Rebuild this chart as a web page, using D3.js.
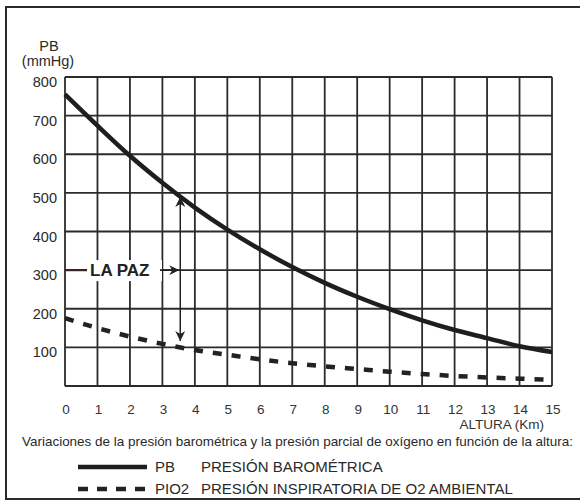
<!DOCTYPE html>
<html>
<head>
<meta charset="utf-8">
<script src="https://cdn.jsdelivr.net/npm/d3@7"></script>
<style>
  body { margin: 0; background: #fff; }
  svg { font-family: "Liberation Sans", Arial, sans-serif; }
</style>
</head>
<body>
<div id="chart"></div>
<script>
// data
var altitudeKm = [0, 1, 2, 3, 4, 5, 6, 7, 8, 9, 10, 11, 12, 13, 14, 15];
var pbValues   = [755, 674, 596, 526, 462, 405, 354, 308, 267, 231, 199, 170, 145, 124, 103, 88];
var pio2Values = [176, 150, 128, 109, 93, 81, 69, 59, 51, 44, 37, 31, 26, 22, 19, 16];
var yTicks = [100, 200, 300, 400, 500, 600, 700, 800];
var xTicks = [0, 1, 2, 3, 4, 5, 6, 7, 8, 9, 10, 11, 12, 13, 14, 15];
var laPazKm = 3.55;
var laPazPB = 500;
var laPazPIO2 = 106;

var W = 580, H = 504;
var plot = {left: 65, top: 77, right: 552, bottom: 386};

var svg = d3.select("#chart")
  .append("svg")
    .attr("width", W)
    .attr("height", H);

// outer frame (open on the right)
svg.append("path")
  .attr("d", "M580,7 H6 V499 H580")
  .attr("fill", "none")
  .attr("stroke", "#2a2a2a")
  .attr("stroke-width", 2);

var x = d3.scaleLinear()
  .domain([0, 15])
  .range([plot.left, plot.right]);

var y = d3.scaleLinear()
  .domain([0, 800])
  .range([plot.bottom, plot.top]);

// grid
var grid = svg.append("g")
  .attr("stroke", "#2b2b2b")
  .attr("stroke-width", 1.8);

grid.selectAll(".vline")
  .data(xTicks)
  .enter().append("line")
    .attr("x1", function(d) { return x(d); })
    .attr("x2", function(d) { return x(d); })
    .attr("y1", y(0))
    .attr("y2", y(800));

grid.selectAll(".hline")
  .data([0].concat(yTicks))
  .enter().append("line")
    .attr("x1", x(0))
    .attr("x2", x(15))
    .attr("y1", function(d) { return y(d); })
    .attr("y2", function(d) { return y(d); });

// y labels
svg.append("g")
  .selectAll("text")
  .data(yTicks)
  .enter().append("text")
    .attr("x", 57)
    .attr("y", function(d) { return y(d) + 10; })
    .attr("text-anchor", "end")
    .style("font-size", "14.5px")
    .style("fill", "#2a2a2a")
    .text(function(d) { return d; });

svg.append("text")
  .attr("x", 49).attr("y", 51)
  .attr("text-anchor", "middle")
  .style("font-size", "14.5px").style("fill", "#2a2a2a")
  .text("PB");
svg.append("text")
  .attr("x", 48).attr("y", 66)
  .attr("text-anchor", "middle")
  .style("font-size", "14.5px").style("fill", "#2a2a2a")
  .text("(mmHg)");

// x labels
svg.append("g")
  .selectAll("text")
  .data(xTicks)
  .enter().append("text")
    .attr("x", function(d) { return x(d) + 1; })
    .attr("y", 414)
    .attr("text-anchor", "middle")
    .style("font-size", "13.5px")
    .style("fill", "#333")
    .text(function(d) { return d; });

svg.append("text")
  .attr("x", 544).attr("y", 429)
  .attr("text-anchor", "end")
  .style("font-size", "13.5px").style("fill", "#333")
  .text("ALTURA  (Km)");

// curves
var line = function(values) {
  return d3.line()
    .curve(d3.curveMonotoneX)
    .x(function(d, i) { return x(altitudeKm[i]); })
    .y(function(d) { return y(d); })(values);
};

svg.append("path")
  .attr("d", line(pio2Values))
  .attr("fill", "none")
  .attr("stroke", "#222")
  .attr("stroke-width", 4.5)
  .attr("stroke-dasharray", "9,10");

svg.append("path")
  .attr("d", line(pbValues))
  .attr("fill", "none")
  .attr("stroke", "#1e1e1e")
  .attr("stroke-width", 4.5);

// arrows for La Paz
var defs = svg.append("defs");
defs.append("marker")
  .attr("id", "arrow")
  .attr("viewBox", "0 0 10 10")
  .attr("refX", 10).attr("refY", 5)
  .attr("markerWidth", 10).attr("markerHeight", 10)
  .attr("markerUnits", "userSpaceOnUse")
  .attr("orient", "auto-start-reverse")
  .append("path")
    .attr("d", "M0,0 L10,5 L0,10 L3,5 Z")
    .attr("fill", "#222");

svg.append("line")
  .attr("x1", x(laPazKm)).attr("x2", x(laPazKm))
  .attr("y1", y(laPazPB) + 4).attr("y2", y(laPazPIO2) - 4)
  .attr("stroke", "#222").attr("stroke-width", 1.5)
  .attr("marker-start", "url(#arrow)")
  .attr("marker-end", "url(#arrow)");

// label box hides the grid behind text
svg.append("rect")
  .attr("x", 86).attr("y", y(300) - 10)
  .attr("width", 76).attr("height", 21)
  .attr("fill", "#fff");

svg.append("line")
  .attr("x1", x(0)).attr("x2", 87)
  .attr("y1", y(300)).attr("y2", y(300))
  .attr("stroke", "#3a2222").attr("stroke-width", 2.2);

svg.append("text")
  .attr("x", 90).attr("y", y(300) + 6)
  .style("font-size", "17px").style("font-weight", "bold").style("fill", "#222")
  .text("LA PAZ");

svg.append("line")
  .attr("x1", 160).attr("x2", x(laPazKm) - 1)
  .attr("y1", y(300)).attr("y2", y(300))
  .attr("stroke", "#222").attr("stroke-width", 1.8)
  .attr("marker-end", "url(#arrow)");

// caption
svg.append("text")
  .attr("x", 22).attr("y", 446)
  .attr("textLength", 551)
  .attr("lengthAdjust", "spacingAndGlyphs")
  .style("font-size", "13.5px").style("fill", "#2a2a2a")
  .text("Variaciones de la presión barométrica y la presión parcial de oxígeno en función de la altura:");

// legend
var legend = svg.append("g");
legend.append("line")
  .attr("x1", 78).attr("x2", 147).attr("y1", 467).attr("y2", 467)
  .attr("stroke", "#1e1e1e").attr("stroke-width", 4.5);
legend.append("line")
  .attr("x1", 78).attr("x2", 148).attr("y1", 489).attr("y2", 489)
  .attr("stroke", "#222").attr("stroke-width", 4.5)
  .attr("stroke-dasharray", "10,9");

legend.append("text").attr("x", 155).attr("y", 472)
  .style("font-size", "15px").style("fill", "#2a2a2a").text("PB");
legend.append("text").attr("x", 201).attr("y", 472)
  .style("font-size", "15px").style("fill", "#2a2a2a").text("PRESIÓN BAROMÉTRICA");
legend.append("text").attr("x", 155).attr("y", 494)
  .style("font-size", "15px").style("fill", "#2a2a2a").text("PIO2");
legend.append("text").attr("x", 201).attr("y", 494)
  .style("font-size", "15px").style("fill", "#2a2a2a").text("PRESIÓN INSPIRATORIA DE O2 AMBIENTAL");
</script>
</body>
</html>
